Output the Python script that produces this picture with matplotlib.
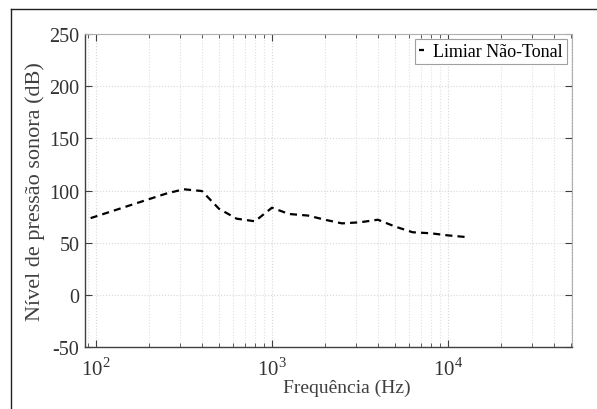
import matplotlib
matplotlib.use("Agg")
import matplotlib.pyplot as plt
from matplotlib.lines import Line2D

plt.rcParams['font.family'] = ['Liberation Serif', 'DejaVu Serif']
plt.rcParams['mathtext.fontset'] = 'custom'
plt.rcParams['mathtext.rm'] = 'Liberation Serif'

# 1/3 octave centre frequencies and non-tonal threshold (dB)
freqs = [80, 100, 125, 160, 200, 250, 315, 400, 500, 630, 800, 1000,
         1250, 1600, 2000, 2500, 3150, 4000, 5000, 6300, 8000, 10000, 12500]
levels = [70, 75.2, 80.5, 86.4, 91.7, 97, 101.2, 99.5, 82.5, 73, 70.5, 83.5,
          77.5, 76, 72, 68.5, 69.5, 72, 65.5, 60, 59, 57, 55.5]

y_ticks = [-50, 0, 50, 100, 150, 200, 250]
x_ticks = [100, 1000, 10000]
x_ticklabels = [r'$10^2$', r'$10^3$', r'$10^4$']

fig = plt.figure(figsize=(5.97, 4.10), dpi=100)
ax = fig.add_axes([0.1424, 0.1512, 0.958 - 0.1424, 0.9146 - 0.1512])

ax.plot(freqs, levels, color='black', lw=1.6, linestyle=(0, (3.2, 2.3)),
        label='Limiar Não-Tonal')

ax.set_xscale('log')
ax.set_xlim(10 ** 1.9375, 10 ** 4.705)
ax.set_ylim(-50, 250)
ax.set_yticks(y_ticks)
ax.set_yticklabels([str(v) for v in y_ticks])
ax.set_xticks(x_ticks)
ax.set_xticklabels(x_ticklabels)

ax.grid(True, which='major', color='#d8d8d8', linestyle=':', lw=0.8)
ax.grid(True, which='minor', axis='x', color='#e0e0e0', linestyle=':', lw=0.8)

ax.tick_params(which='both', direction='in', top=True, right=True,
               color='#404040')
ax.tick_params(which='major', length=5)
ax.tick_params(which='minor', length=3)
ax.tick_params(axis='y', which='major', labelsize=14.5, pad=4,
               labelcolor='#333333')
ax.tick_params(axis='x', which='major', labelsize=15, pad=7,
               labelcolor='#333333')

for side in ['left', 'bottom']:
    ax.spines[side].set_color('#404040')
    ax.spines[side].set_linewidth(1.0)
for side in ['top', 'right']:
    ax.spines[side].set_color('#b0b0b0')
    ax.spines[side].set_linewidth(0.8)

ax.set_ylabel('Nível de pressão sonora (dB)', fontsize=16, color='#404040')
ax.yaxis.set_label_coords(-0.082, 0.5)
ax.set_xlabel('Frequência (Hz)', fontsize=14, color='#404040')
ax.xaxis.set_label_coords(0.538, -0.10)

leg = ax.legend(loc='upper right', fontsize=13, handlelength=0.3,
                handletextpad=0.5, borderpad=0.2, borderaxespad=0.3,
                fancybox=False, framealpha=1)
leg.get_frame().set_edgecolor('#a0a0a0')
leg.get_frame().set_linewidth(0.8)

# outer frame of the original figure crop
fig.add_artist(Line2D([0.0176, 1.0], [0.9768, 0.9768], color='#202020', lw=1.0,
                      transform=fig.transFigure))
fig.add_artist(Line2D([0.0176, 0.0176], [0.0, 0.9768], color='#202020', lw=1.0,
                      transform=fig.transFigure))

fig.savefig('out.png', dpi=100)
